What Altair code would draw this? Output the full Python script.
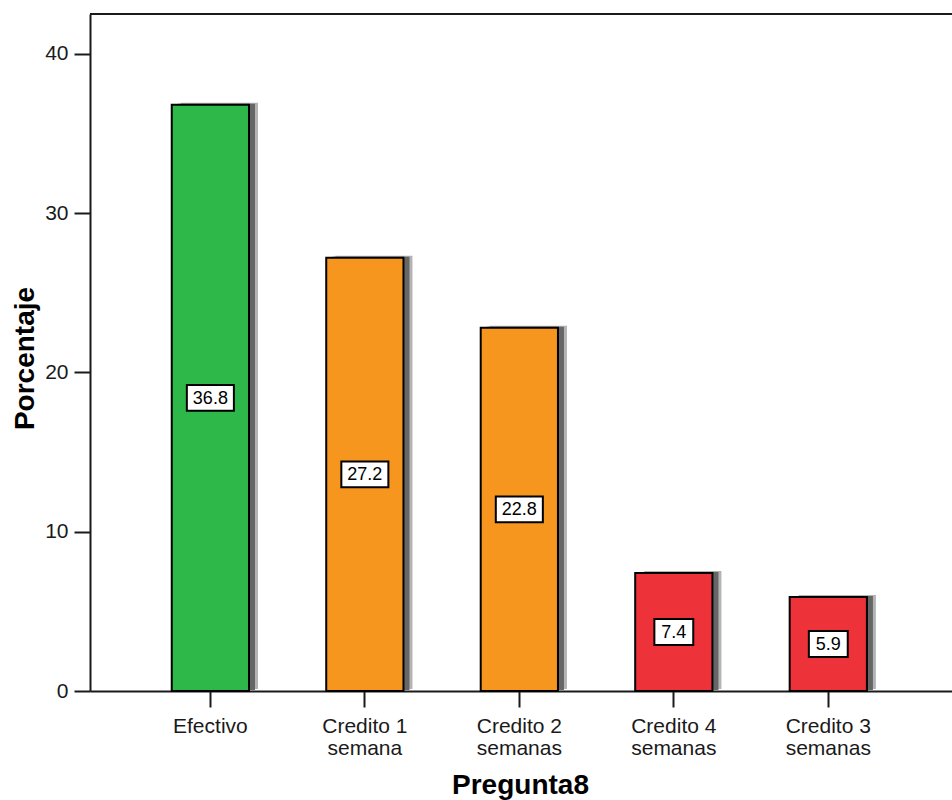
import altair as alt
import pandas as pd

# Survey answers for "Pregunta8" and their share of respondents (%)
categorias = [
    "Efectivo",
    "Credito 1\nsemana",
    "Credito 2\nsemanas",
    "Credito 4\nsemanas",
    "Credito 3\nsemanas",
]
porcentajes = [36.8, 27.2, 22.8, 7.4, 5.9]
colores = ["#2fb84a", "#f7961f", "#f7961f", "#ee3239", "#ee3239"]

df = pd.DataFrame({"Pregunta8": categorias, "Porcentaje": porcentajes})

W, H = 862, 677
FONT = "Liberation Sans"
INK = "#1a1a1a"

x_enc = alt.X(
    "Pregunta8:N",
    sort=categorias,
    scale=alt.Scale(paddingInner=0.5, paddingOuter=0.54, align=0.49),
    axis=alt.Axis(
        title="Pregunta8",
        labelAngle=0,
        labelExpr="split(datum.label, '\\n')",
        labelFont=FONT,
        labelFontSize=21,
        labelColor=INK,
        labelLineHeight=22,
        labelPadding=8,
        labelBaseline="top",
        tickSize=16,
        tickWidth=2,
        tickColor=INK,
        domainColor=INK,
        domainWidth=2,
        titleFont=FONT,
        titleFontSize=28,
        titleFontWeight="bold",
        titleColor="#000000",
        titleX=430,
        titleY=102,
        titleBaseline="alphabetic",
        titleAlign="center",
    ),
)

y_scale = alt.Scale(domain=[0, 42.5], nice=False, zero=True)
y_enc = alt.Y(
    "Porcentaje:Q",
    scale=y_scale,
    axis=alt.Axis(
        title="Porcentaje",
        values=[0, 10, 20, 30, 40],
        grid=False,
        labelFont=FONT,
        labelFontSize=21,
        labelColor=INK,
        labelPadding=6,
        tickSize=16,
        tickWidth=2,
        tickColor=INK,
        domainColor=INK,
        domainWidth=2,
        titleFont=FONT,
        titleFontSize=28,
        titleFontWeight="bold",
        titleColor="#000000",
        titleX=-57,
        titleY=344,
        titleBaseline="alphabetic",
        titleAlign="center",
    ),
)

base = alt.Chart(df).encode(x=x_enc)

# Drop shadow behind each bar: a light outer band and a darker inner band
shadow_light = base.mark_bar(color="#b4b4b4", xOffset=9, yOffset=-2).encode(y=y_enc)
shadow_dark = base.mark_bar(color="#666666", xOffset=6, yOffset=-1).encode(y=y_enc)

bars = base.mark_bar(stroke="#000000", strokeWidth=2).encode(
    y=y_enc,
    color=alt.Color(
        "Pregunta8:N",
        scale=alt.Scale(domain=categorias, range=colores),
        legend=None,
    ),
)

# White boxed value labels at half the bar height
box4 = "M-0.98,-0.54H0.98V0.54H-0.98Z"
box3 = "M-0.81,-0.54H0.81V0.54H-0.81Z"
boxes = (
    base.transform_calculate(
        mitad="datum.Porcentaje / 2",
        caja=f"datum.Porcentaje >= 10 ? '{box4}' : '{box3}'",
    )
    .mark_point(filled=True, fill="#ffffff", stroke="#000000", strokeWidth=2, opacity=1)
    .encode(
        y=alt.Y("mitad:Q", scale=y_scale),
        shape=alt.Shape("caja:N", scale=None),
        size=alt.value(2304),
    )
)
texts = (
    base.transform_calculate(mitad="datum.Porcentaje / 2")
    .mark_text(font=FONT, fontSize=18, color="#000000", baseline="middle", dy=1)
    .encode(
        y=alt.Y("mitad:Q", scale=y_scale),
        text=alt.Text("Porcentaje:Q", format=".1f"),
    )
)

# Frame line along the top of the plot area
top_line = alt.Chart(df).mark_rule(color=INK, strokeWidth=2).encode(
    x=alt.value(0), x2=alt.value(W), y=alt.value(0)
)

chart = (
    alt.layer(shadow_light, shadow_dark, bars, boxes, texts, top_line)
    .properties(
        width=W,
        height=H,
        autosize=alt.AutoSizeParams(type="none"),
        padding={"left": 90, "top": 14, "right": 0, "bottom": 109},
        background="#ffffff",
    )
    .configure_view(stroke=None)
)

chart.save("out.html", embed_options={"renderer": "svg", "actions": False})
